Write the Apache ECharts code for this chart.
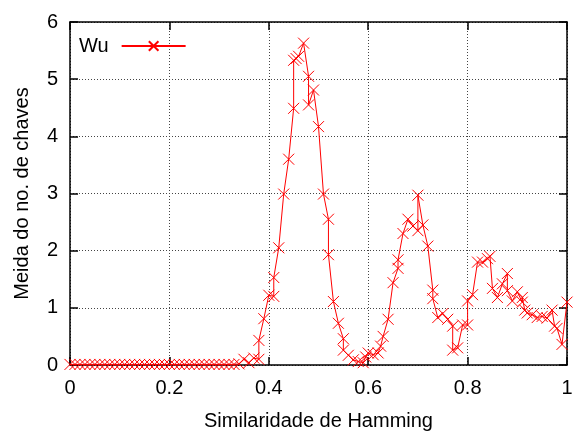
<!DOCTYPE html>
<html><head><meta charset="utf-8">
<script src="https://cdn.jsdelivr.net/npm/echarts@6/dist/echarts.min.js"></script>
<style>html,body{margin:0;padding:0;background:#fff}#c{width:584px;height:436px}</style>
</head><body><div id="c"></div>
<script>
const seriesName = 'Wu';
const xLabel = 'Similaridade de Hamming';
const yLabel = 'Meida do no. de chaves';
const xTicks = [0, 0.2, 0.4, 0.6, 0.8, 1];
const yTicks = [0, 1, 2, 3, 4, 5, 6];
const xs = [0,0.01,0.02,0.03,0.04,0.05,0.06,0.07,0.08,0.09,0.10,0.11,0.12,0.13,0.14,0.15,0.16,0.17,0.18,0.19,0.20,0.21,0.22,0.23,0.24,0.25,0.26,0.27,0.28,0.29,0.30,0.31,0.32,0.33,0.34,
0.35,0.36,0.37,0.38,0.38,0.39,0.40,0.41,0.41,0.42,0.43,0.44,0.45,0.45,0.455,0.46,0.47,0.48,0.48,0.49,0.50,0.51,0.52,0.52,0.53,0.54,0.55,0.55,0.56,0.57,0.58,0.59,0.595,0.60,0.61,0.62,0.625,0.63,0.64,0.65,0.66,0.66,0.67,0.68,0.69,0.70,0.70,0.71,0.72,0.73,0.73,0.74,0.75,0.76,0.77,0.77,0.78,0.79,0.80,0.80,0.81,0.82,0.83,0.84,0.845,0.85,0.86,0.87,0.88,0.88,0.89,0.90,0.91,0.91,0.915,0.92,0.93,0.94,0.95,0.96,0.97,0.975,0.98,0.99,1.00];
const ys = [0.01,0.01,0.01,0.01,0.01,0.01,0.01,0.01,0.01,0.01,0.01,0.01,0.01,0.01,0.01,0.01,0.01,0.01,0.01,0.01,0.01,0.01,0.01,0.01,0.01,0.01,0.01,0.01,0.01,0.01,0.01,0.01,0.01,0.01,0.02,
0.10,0.04,0.12,0.10,0.43,0.81,1.22,1.20,1.53,2.05,2.99,3.60,4.49,5.33,5.36,5.40,5.63,5.05,4.55,4.81,4.17,2.99,2.55,1.93,1.11,0.73,0.46,0.26,0.17,0.09,0.06,0.04,0.14,0.21,0.18,0.21,0.33,0.50,0.80,1.44,1.69,1.84,2.30,2.55,2.43,2.35,2.97,2.45,2.08,1.31,1.16,0.83,0.90,0.80,0.68,0.26,0.30,0.70,0.70,1.12,1.23,1.80,1.80,1.86,1.90,1.34,1.18,1.42,1.60,1.30,1.12,1.28,1.10,1.18,0.96,0.91,0.88,0.83,0.85,0.82,0.96,0.68,0.64,0.36,1.10];

const data = xs.map((x, i) => [x, ys[i]]);
const font = 'Liberation Sans, Arial, sans-serif';
const cross = 'path://M0,0L10,10M10,0L0,10';
const chart = echarts.init(document.getElementById('c'), null, {renderer: 'canvas'});
const gridDotted = {show: true, lineStyle: {color: '#444', type: [1, 2], width: 1}};
chart.setOption({
  animation: false,
  backgroundColor: '#fff',
  grid: {left: 70, right: 17, top: 22, bottom: 68, show: false},
  legend: {
    left: 74, top: 31, align: 'right', itemWidth: 64, itemHeight: 12, itemGap: 10,
    textStyle: {fontFamily: font, fontSize: 20, color: '#000', padding: [0, 8, 0, 0]},
    data: [seriesName]
  },
  xAxis: [{
    type: 'value', min: xTicks[0], max: xTicks[xTicks.length - 1], interval: 0.2,
    name: xLabel, nameLocation: 'middle', nameGap: 46,
    nameTextStyle: {fontFamily: font, fontSize: 20, color: '#000'},
    axisLine: {show: true, onZero: false, lineStyle: {color: '#000', width: 1.5}},
    axisTick: {show: true, inside: true, length: 8, lineStyle: {color: '#000', width: 1.5}},
    axisLabel: {fontFamily: font, fontSize: 20, color: '#000', margin: 13,
      formatter: v => String(Math.round(v * 10) / 10)},
    splitLine: gridDotted
  }, {
    type: 'value', position: 'top', min: xTicks[0], max: xTicks[xTicks.length - 1], interval: 0.2,
    axisLine: {show: true, onZero: false, lineStyle: {color: '#000', width: 1.5}},
    axisTick: {show: true, inside: true, length: 8, lineStyle: {color: '#000', width: 1.5}},
    axisLabel: {show: false}, splitLine: {show: false}
  }],
  yAxis: [{
    type: 'value', min: yTicks[0], max: yTicks[yTicks.length - 1], interval: 1,
    name: yLabel, nameLocation: 'middle', nameGap: 38, nameRotate: 90,
    nameTextStyle: {fontFamily: font, fontSize: 20, color: '#000'},
    axisLine: {show: true, onZero: false, lineStyle: {color: '#000', width: 1.5}},
    axisTick: {show: true, inside: true, length: 8, lineStyle: {color: '#000', width: 1.5}},
    axisLabel: {fontFamily: font, fontSize: 20, color: '#000', margin: 12},
    splitLine: gridDotted
  }, {
    type: 'value', position: 'right', min: yTicks[0], max: yTicks[yTicks.length - 1], interval: 1,
    axisLine: {show: true, onZero: false, lineStyle: {color: '#000', width: 1.5}},
    axisTick: {show: true, inside: true, length: 8, lineStyle: {color: '#000', width: 1.5}},
    axisLabel: {show: false}, splitLine: {show: false}
  }],
  series: [{
    name: seriesName, type: 'line', data: data,
    xAxisIndex: 0, yAxisIndex: 0,
    symbol: cross, symbolSize: 11, showAllSymbol: true,
    lineStyle: {color: '#ff0000', width: 1},
    itemStyle: {color: '#ff0000', borderColor: '#ff0000', borderWidth: 1},
    emphasis: {disabled: true}
  }]
});
</script></body></html>
